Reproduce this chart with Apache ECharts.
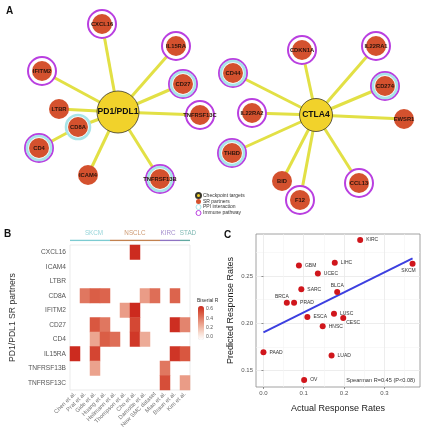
<!DOCTYPE html>
<html><head><meta charset="utf-8">
<script src="https://cdn.jsdelivr.net/npm/echarts@6/dist/echarts.min.js"></script>
<style>html,body{margin:0;padding:0;background:#fff}#c{width:430px;height:440px}</style>
</head><body><div id="c"></div>
<script>
// ---------- Panel A: network ----------
const netNodes = ['PD1/PDL1','CXCL16','IL15RA','IFITM2','CD27','LTBR','TNFRSF13C','CD8A','CD4','ICAM4','TNFRSF13B',
                  'CTLA4','CDKN1A','IL22RA1','CD44','CD274','IL22RA2','EWSR1','THBD','BID','F12','CCL13'];
const netX = [118,102,176,42,183,59,200,78,39,88,160, 316,302,376,233,385,252,404,232,282,300,359];
const netY = [112,24,46,71,84,109,115,127,148,175,179, 115,50,46,73,86,113,119,153,181,200,183];
const hubNodes = ['PD1/PDL1','CTLA4'];
const ppiNodes = ['CD27','CD8A','CD4','TNFRSF13B','CD44','CD274','THBD'];
const immuneNodes = ['CXCL16','IL15RA','IFITM2','CD27','TNFRSF13C','CD4','TNFRSF13B','CDKN1A','IL22RA1','CD44','CD274','IL22RA2','THBD','F12','CCL13'];
const netEdges = [['PD1/PDL1','CXCL16'],['PD1/PDL1','IL15RA'],['PD1/PDL1','IFITM2'],['PD1/PDL1','CD27'],['PD1/PDL1','LTBR'],
  ['PD1/PDL1','TNFRSF13C'],['PD1/PDL1','CD8A'],['CD8A','CD4'],['PD1/PDL1','ICAM4'],['PD1/PDL1','TNFRSF13B'],
  ['CTLA4','CDKN1A'],['CTLA4','IL22RA1'],['CTLA4','CD44'],['CTLA4','CD274'],['CTLA4','IL22RA2'],['CTLA4','EWSR1'],
  ['CTLA4','THBD'],['CTLA4','BID'],['CTLA4','F12'],['CTLA4','CCL13']];

// ---------- Panel B: heatmap ----------
const hmRows = ['CXCL16','ICAM4','LTBR','CD8A','IFITM2','CD27','CD4','IL15RA','TNFRSF13B','TNFRSF13C'];
const hmCols = ['Chen et al.','Prat et al.','Gide et al.','Huang et al.','Hellmann et al.','Thompson et al.','Cho et al.',
                'Damotte et al.','New SMC dataset','Miao et al.','Braun et al.','Kim et al.'];
const hmValues = [
  [null,null,null,null,null,null,0.66,null,null,null,null,null],
  [null,null,null,null,null,null,null,null,null,null,null,null],
  [null,null,null,null,null,null,null,null,null,null,null,null],
  [null,0.42,0.50,0.48,null,null,null,0.30,0.45,null,0.48,null],
  [null,null,null,null,null,0.30,0.68,null,null,null,null,null],
  [null,null,0.52,0.42,null,null,0.57,null,null,null,0.65,0.38],
  [null,null,0.27,0.50,0.45,null,0.62,0.25,null,null,null,null],
  [0.66,null,0.58,null,null,null,null,null,null,null,0.63,0.52],
  [null,null,0.28,null,null,null,null,null,null,0.42,null,null],
  [null,null,null,null,null,null,null,null,null,0.55,null,0.30]
];
const groupNames = ['SKCM','NSCLC','KIRC','STAD'];
const groupStart = [0,4,9,11];
const groupEnd = [4,9,11,12];
const colorbarTicks = [0,0.2,0.4,0.6];

// ---------- Panel C: scatter ----------
const cancers = ['KIRC','LIHC','SKCM','GBM','UCEC','SARC','BLCA','BRCA','PRAD','LUSC','ESCA','CESC','HNSC','PAAD','LUAD','OV'];
const actualRate = [0.240,0.177,0.370,0.088,0.135,0.094,0.183,0.058,0.076,0.175,0.109,0.198,0.147,0.000,0.169,0.101];
const predictedRate = [0.288,0.264,0.263,0.261,0.2525,0.236,0.233,0.2216,0.2216,0.210,0.2067,0.2057,0.1968,0.1695,0.166,0.140];
const fitX = [0.0, 0.37];
const fitY = [0.1905, 0.2685];
const xTicks = [0,0.1,0.2,0.3];
const xMinor = [0.05,0.15,0.25,0.35];
const yTicks = [0.15,0.20,0.25];
const yMinor = [0.175,0.225,0.275];

// ---------- build ----------
const FONT = 'Liberation Sans';
const nodePos = {};
netNodes.forEach((n,i)=>{ nodePos[n] = [netX[i], netY[i]]; });
const pick = list => list.map(n => ({name:n, value:nodePos[n]}));
const partnerNodes = netNodes.filter(n => hubNodes.indexOf(n) < 0);

const groupColors = ['#7ccbd1','#c2814f','#8e73c2','#62a9a1'];
const groupLabelOffset = [[4,0],[0,0],[-2,0],[3,0]];
const groupSeries = [];
groupNames.forEach((g,i)=>{
  groupSeries.push({type:'line', xAxisIndex:2, yAxisIndex:2, symbol:'none', silent:true,
    lineStyle:{color:groupColors[i], width:1.3},
    data:[[groupStart[i],0],[groupEnd[i],0]]});
  groupSeries.push({type:'scatter', xAxisIndex:2, yAxisIndex:2, symbolSize:0, silent:true,
    label:{show:true, position:'inside', formatter:g, fontSize:6.3, color:groupColors[i], offset:groupLabelOffset[i]},
    data:[[(groupStart[i]+groupEnd[i])/2, 0.55]]});
});

const hmData = [];
hmValues.forEach((row,r)=>row.forEach((v,c)=>{ if(v!==null) hmData.push([c,r,v]); }));

const labelPlace = {
  BRCA:{position:'top', distance:1, offset:[-5,0]},
  BLCA:{position:'top', distance:1},
  CESC:{position:'right', offset:[-3,5]},
  SKCM:{position:'bottom', distance:1, offset:[-4,0]}
};
const scData = cancers.map((c,i)=>{
  const o = {name:c, value:[actualRate[i], predictedRate[i]]};
  if(labelPlace[c]) o.label = labelPlace[c];
  return o;
});

const hiddenVal = (min,max,idx,inv)=>({type:'value', gridIndex:idx, min:min, max:max, show:false, inverse:!!inv});

const option = {
  animation:false,
  textStyle:{fontFamily:FONT},
  title:[
    {text:'A', left:6, top:6, padding:0, textStyle:{fontSize:10, fontWeight:'bold', color:'#111', fontFamily:FONT}},
    {text:'B', left:4, top:229, padding:0, textStyle:{fontSize:10, fontWeight:'bold', color:'#111', fontFamily:FONT}},
    {text:'C', left:224, top:230, padding:0, textStyle:{fontSize:10, fontWeight:'bold', color:'#111', fontFamily:FONT}},
    {text:'Biserial R', left:197, top:298, padding:0, textStyle:{fontSize:5, fontWeight:'normal', color:'#333', fontFamily:FONT}},
    {text:'Spearman R=0.45 (P<0.08)', right:15, top:377, padding:0, textStyle:{fontSize:5.6, fontWeight:'normal', color:'#333', fontFamily:FONT}}
  ],
  legend:{
    left:195, top:192, orient:'vertical', itemWidth:5, itemHeight:5, itemGap:0, padding:0, selectedMode:false,
    textStyle:{fontSize:5, color:'#333', lineHeight:5, padding:[0,0,0,-3]},
    data:['Checkpoint targets','SR partners',
      {name:'PPI interaction', itemStyle:{borderWidth:1}},
      {name:'Immune pathway', itemStyle:{borderWidth:1}}]
  },
  grid:[
    {left:0, top:0, width:430, height:220},
    {left:70, top:245, width:120, height:145, show:true, borderColor:'#e6e6e6', borderWidth:0.8, backgroundColor:'transparent'},
    {left:70, top:228, width:120, height:12.5},
    {left:198, top:306, width:6, height:34},
    {left:256, top:234, width:164, height:153, show:true, borderColor:'#8a8a8a', borderWidth:0.8, backgroundColor:'transparent'}
  ],
  xAxis:[
    hiddenVal(0,430,0),
    {type:'category', gridIndex:1, data:hmCols, axisLine:{show:false}, axisTick:{show:false},
      axisLabel:{rotate:45, interval:0, fontSize:5.8, color:'#777', margin:3}},
    hiddenVal(0,12,2),
    hiddenVal(0,1,3),
    {type:'value', gridIndex:4, min:-0.0185, max:0.3885, axisLine:{show:false},
      axisTick:{show:true, length:2, customValues:xTicks, lineStyle:{color:'#666', width:0.7}},
      axisLabel:{customValues:xTicks, formatter:v=>v.toFixed(1), fontSize:6, color:'#555', margin:3},
      splitLine:{show:true, lineStyle:{color:'#e8e8e8', width:0.8}},
      name:'Actual Response Rates', nameLocation:'middle', nameGap:17,
      nameTextStyle:{fontSize:9, color:'#222'}},
    {type:'value', gridIndex:4, min:-0.0185, max:0.3885, axisLine:{show:false},
      axisTick:{show:false, customValues:xMinor}, axisLabel:{show:false},
      splitLine:{show:true, lineStyle:{color:'#f3f3f3', width:0.6}}}
  ],
  yAxis:[
    hiddenVal(0,220,0,true),
    {type:'category', gridIndex:1, data:hmRows, inverse:true, axisLine:{show:false}, axisTick:{show:false},
      axisLabel:{fontSize:6.6, color:'#555', margin:4},
      name:'PD1/PDL1 SR partners', nameLocation:'middle', nameGap:53,
      nameTextStyle:{fontSize:8.6, color:'#333'}},
    hiddenVal(0,1,2),
    {type:'value', gridIndex:3, min:-0.064, max:0.664, position:'right', axisLine:{show:false},
      axisTick:{show:false, customValues:colorbarTicks},
      axisLabel:{customValues:colorbarTicks, formatter:v=>v.toFixed(1), fontSize:5, color:'#555', margin:2},
      splitLine:{show:false}},
    {type:'value', gridIndex:4, min:0.1327, max:0.2943, axisLine:{show:false},
      axisTick:{show:true, length:2, customValues:yTicks, lineStyle:{color:'#666', width:0.7}},
      axisLabel:{customValues:yTicks, formatter:v=>v.toFixed(2), fontSize:6, color:'#555', margin:3},
      splitLine:{show:true, lineStyle:{color:'#e8e8e8', width:0.8}},
      name:'Predicted Response Rates', nameLocation:'middle', nameGap:21,
      nameTextStyle:{fontSize:9, color:'#222'}},
    {type:'value', gridIndex:4, min:0.1327, max:0.2943, axisLine:{show:false},
      axisTick:{show:false, customValues:yMinor}, axisLabel:{show:false},
      splitLine:{show:true, lineStyle:{color:'#f3f3f3', width:0.6}}}
  ],
  visualMap:{
    type:'continuous', seriesIndex:5, min:-0.064, max:0.664, left:198, top:306, itemWidth:6, itemHeight:34,
    calculable:false, hoverLink:false, padding:0, text:null,
    inRange:{color:['#ffffff','#f8ddd2','#efb29e','#e48670','#d95840','#cc2a1e']}
  },
  series:[
    {type:'graph', coordinateSystem:'cartesian2d', xAxisIndex:0, yAxisIndex:0, z:1, silent:true,
      symbolSize:1, itemStyle:{opacity:0}, label:{show:false},
      lineStyle:{color:'#e2e045', width:3, opacity:1, curveness:0},
      data:netNodes.map(n=>({name:n, value:nodePos[n]})),
      links:netEdges.map(e=>({source:e[0], target:e[1]}))},
    {name:'Immune pathway', type:'scatter', xAxisIndex:0, yAxisIndex:0, z:2, silent:true, symbolSize:28,
      itemStyle:{color:'#ffffff', borderColor:'#b93fe0', borderWidth:2, opacity:1},
      data:pick(immuneNodes)},
    {name:'PPI interaction', type:'scatter', xAxisIndex:0, yAxisIndex:0, z:3, silent:true, symbolSize:24,
      itemStyle:{color:'#ffffff', borderColor:'#a8e4e8', borderWidth:2.6, opacity:1},
      data:pick(ppiNodes)},
    {name:'SR partners', type:'scatter', xAxisIndex:0, yAxisIndex:0, z:4, silent:true, symbolSize:20,
      itemStyle:{color:'#d4512e', opacity:1},
      label:{show:true, position:'inside', formatter:'{b}', fontSize:5.8, fontWeight:'bold', color:'#2a140c'},
      data:pick(partnerNodes)},
    {name:'Checkpoint targets', type:'scatter', xAxisIndex:0, yAxisIndex:0, z:4, silent:true,
      symbolSize:(v,p)=>p.name==='PD1/PDL1'?42:33,
      itemStyle:{color:'#f1d22b', borderColor:'#3a372a', borderWidth:0.8, opacity:1},
      label:{show:true, position:'inside', formatter:'{b}', fontSize:8.6, fontWeight:'bold', color:'#111'},
      data:pick(hubNodes)},
    {type:'heatmap', xAxisIndex:1, yAxisIndex:1, data:hmData, silent:true, itemStyle:{borderWidth:0}},
    ...groupSeries,
    {type:'line', xAxisIndex:4, yAxisIndex:4, symbol:'none', silent:true, z:3,
      lineStyle:{color:'#3c3fe0', width:2},
      data:fitX.map((x,i)=>[x, fitY[i]])},
    {type:'scatter', xAxisIndex:4, yAxisIndex:4, symbolSize:6, silent:true, z:4,
      itemStyle:{color:'#d0161c', opacity:1},
      label:{show:true, position:'right', distance:3, formatter:'{b}', fontSize:5, color:'#333'},
      data:scData}
  ]
};
const chart = echarts.init(document.getElementById('c'), null, {renderer:'canvas'});
chart.setOption(option);
</script></body></html>
